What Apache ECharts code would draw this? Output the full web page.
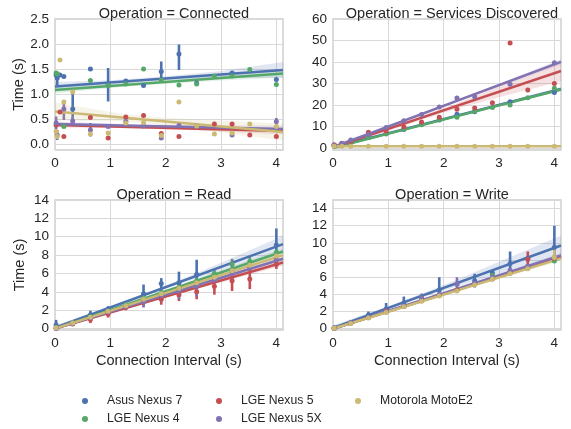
<!DOCTYPE html>
<html><head><meta charset="utf-8">
<script src="https://cdn.jsdelivr.net/npm/echarts@6/dist/echarts.min.js"></script>
<style>html,body{margin:0;padding:0;background:#fff}#c{width:571px;height:429px}</style>
</head><body><div id="c"></div>
<script>
const DEVICES = ['Asus Nexus 7','LGE Nexus 4','LGE Nexus 5','LGE Nexus 5X','Motorola MotoE2'];
const COLORS = ['#4C72B0','#55A868','#C44E52','#8172B2','#CCB974'];
const TITLES = ['Operation = Connected','Operation = Services Discovered','Operation = Read','Operation = Write'];
const FIT_X = [0, 4.12];
const BAND_X = [0, 1, 1.6, 2.2, 3, 4.12];

// ---- Connected ----
const CONN_X = [
  [0.02,0.04,0.09,0.16,0.32,0.64,0.96,1.28,1.6,1.92,2.24,2.56,3.2,4.0],
  [0.02,0.04,0.16,0.64,0.96,1.28,1.6,1.92,2.24,2.56,2.88,3.2,3.52,4.0],
  [0.02,0.09,0.16,0.64,0.96,1.28,1.6,1.92,2.24,2.88,3.2,3.52,4.0],
  [0.02,0.04,0.16,0.32,0.64,0.96,1.28,1.6,1.92,2.24,2.56,3.2,4.0],
  [0.02,0.04,0.09,0.16,0.32,0.64,0.96,1.28,1.6,1.92,2.24,2.56,2.88,3.2,3.52,4.0]
];
const CONN_Y = [
  [1.38,1.32,1.38,1.35,0.70,1.50,1.18,1.26,1.17,1.45,1.80,1.22,1.42,1.29],
  [1.42,1.40,0.35,1.27,1.17,1.20,1.50,1.28,1.18,1.20,1.36,1.36,1.49,1.19],
  [0.38,0.64,0.15,0.53,0.12,0.54,0.57,0.21,0.15,0.40,0.40,0.18,0.15],
  [0.42,0.18,0.70,0.46,0.28,0.35,0.45,0.36,0.12,0.37,0.36,0.18,0.45],
  [0.25,0.15,1.68,0.84,1.04,0.20,0.22,0.42,0.43,0.17,0.84,0.36,0.20,0.22,0.40,0.35]
];
const CONN_ERR = [
  [[0.04,1.18,1.45],[0.32,0.42,1.08],[0.96,0.85,1.52],[1.28,1.22,1.30],[1.92,1.25,1.65],[2.24,1.48,1.99],[3.2,1.38,1.45]],
  [],
  [],
  [[0.02,0.29,0.55],[0.04,0.08,0.28],[0.16,0.48,0.88],[0.32,0.38,0.55],[0.64,0.15,0.42],[1.28,0.40,0.52],[4.0,0.39,0.52]],
  []
];
const CONN_FIT = [[1.15,1.48],[1.08,1.41],[0.38,0.26],[0.40,0.30],[0.65,0.24]];
const CONN_LO = [
  [1.06,1.185,1.24,1.285,1.32,1.32],
  [1.01,1.12,1.175,1.215,1.27,1.33],
  [0.33,0.32,0.31,0.29,0.25,0.19],
  [0.35,0.35,0.34,0.32,0.29,0.23],
  [0.47,0.46,0.42,0.35,0.23,0.07]
];
const CONN_HI = [
  [1.24,1.275,1.32,1.375,1.46,1.64],
  [1.15,1.20,1.245,1.295,1.37,1.49],
  [0.43,0.38,0.36,0.35,0.33,0.33],
  [0.45,0.41,0.39,0.38,0.37,0.37],
  [0.83,0.64,0.56,0.51,0.47,0.41]
];

// ---- Services Discovered ----
const SERV_X = [
  [0.02,0.16,0.32,0.64,0.96,1.28,1.6,1.92,2.24,2.56,3.2,4.0],
  [0.02,0.16,0.32,0.64,0.96,1.28,1.6,1.92,2.24,2.56,2.88,3.2,3.52,4.0],
  [0.02,0.16,0.32,0.64,0.96,1.28,1.6,1.92,2.24,2.56,2.88,3.2,3.52,4.0],
  [0.02,0.16,0.32,0.64,0.96,1.28,1.6,1.92,2.24,2.56,3.2,4.0],
  [0.02,0.16,0.32,0.64,0.96,1.28,1.6,1.92,2.24,2.56,2.88,3.2,3.52,4.0]
];
const SERV_Y = [
  [1.0,1.8,2.8,5.0,6.8,8.5,11.0,13.0,15.6,16.8,21.5,25.8],
  [0.9,1.6,2.4,4.8,6.5,8.8,10.8,13.2,14.3,17.0,18.8,20.0,23.3,27.8],
  [1.5,2.0,3.0,7.3,7.8,9.8,12.0,14.2,18.0,18.5,21.0,48.8,26.9,30.0],
  [1.2,2.2,3.6,6.2,9.5,12.6,15.5,19.0,23.2,23.8,29.6,39.6],
  [0.8,0.7,0.8,0.8,0.8,0.8,0.8,0.8,0.8,0.8,0.8,0.8,0.8,0.8]
];
const SERV_ERR = [[],[],[],[],[]];
const SERV_FIT = [[0.2,27.4],[0.0,27.2],[0.2,35.8],[0.3,40.0],[0.8,0.8]];
const SERV_LO = [
  [-0.3,6.5,10.46,14.42,19.5,26.5],
  [-0.5,6.3,10.26,14.22,19.3,26.3],
  [-0.9,7.84,13.1,18.0,23.6,31.0],
  [-0.3,9.54,15.37,21.1,28.5,38.8],
  [0.6,0.6,0.6,0.6,0.6,0.6]
];
const SERV_HI = [
  [0.7,7.1,11.06,15.02,20.5,28.3],
  [0.5,6.9,10.86,14.82,20.3,28.1],
  [1.8,9.84,14.9,20.4,28.6,40.6],
  [0.9,10.34,16.07,21.9,29.9,41.2],
  [1.0,1.0,1.0,1.0,1.0,1.0]
];

// ---- Read ----
const READ_X = [
  [0.02,0.64,0.96,1.6,1.92,2.24,2.56,4.0],
  [0.02,0.32,0.64,0.96,1.28,1.6,1.92,2.24,2.56,2.88,3.2,3.52,4.0],
  [0.02,0.32,0.64,0.96,1.28,1.6,1.92,2.24,2.56,2.88,3.2,3.52,4.0],
  [0.02,0.32,0.64,0.96,1.28,1.6,1.92,2.24,2.56,2.88,3.2,3.52,4.0],
  [0.02,0.32,0.64,0.96,1.28,1.6,1.92,2.24,2.56,2.88,3.2,3.52,4.0]
];
const READ_Y = [
  [0.4,1.5,2.1,3.8,4.9,5.0,5.9,9.1],
  [0.1,0.6,1.3,1.9,2.6,3.3,3.9,4.5,5.2,6.0,7.0,7.3,8.3],
  [0.05,0.5,1.0,1.6,2.3,2.9,3.2,3.7,4.0,4.6,5.2,5.4,7.0],
  [0.05,0.55,1.2,1.8,2.4,2.9,3.6,4.1,4.6,5.3,6.2,6.6,7.5],
  [0.1,0.6,1.25,1.9,2.5,3.2,3.8,4.4,5.0,5.6,6.3,6.9,7.9]
];
const READ_ERR = [
  [[0.02,0.05,0.95],[0.64,1.0,1.95],[0.96,1.7,2.45],[1.6,2.6,4.8],[1.92,3.7,5.5],[2.24,3.7,6.2],[2.56,4.6,7.5],[4.0,7.8,10.9]],
  [[2.88,5.5,6.5],[3.2,6.5,7.6],[3.52,6.8,7.85],[4.0,7.8,8.6]],
  [[0.64,0.6,1.35],[0.96,1.2,1.9],[1.28,2.0,2.6],[1.6,2.4,3.3],[1.92,2.6,3.7],[2.24,3.0,4.4],[2.56,3.2,4.6],[2.88,3.7,5.5],[3.2,4.1,6.3],[3.52,4.3,6.4],[4.0,6.5,7.6]],
  [[1.6,2.3,3.4],[1.92,2.9,4.1],[2.24,3.2,5.0],[2.56,3.5,5.5],[3.2,5.1,7.5],[4.0,6.8,8.2]],
  [[3.52,6.5,7.3],[4.0,7.5,8.3]]
];
const READ_FIT = [[0.1,9.2],[0.0,8.4],[0.0,7.2],[0.0,7.6],[0.0,8.0]];
const READ_LO = [
  [-0.15,2.16,3.49,4.76,6.28,8.3],
  [-0.12,1.96,3.18,4.39,5.92,8.05],
  [-0.12,1.67,2.72,3.74,5.04,6.85],
  [-0.12,1.76,2.87,3.96,5.33,7.25],
  [-0.12,1.86,3.03,4.17,5.63,7.65]
];
const READ_HI = [
  [0.35,2.46,3.79,5.16,7.18,10.1],
  [0.12,2.12,3.34,4.59,6.32,8.75],
  [0.12,1.83,2.88,3.94,5.44,7.55],
  [0.12,1.92,3.03,4.16,5.73,7.95],
  [0.12,2.02,3.19,4.37,6.03,8.35]
];

// ---- Write ----
const WRITE_X = [
  [0.02,0.32,0.64,0.96,1.28,1.6,1.92,2.24,2.56,2.88,3.2,3.52,4.0],
  [0.02,0.32,0.64,0.96,1.28,1.6,1.92,2.24,2.56,2.88,3.2,3.52,4.0],
  [0.02,0.32,0.64,0.96,1.28,1.6,1.92,2.24,2.56,2.88,3.2,3.52,4.0],
  [0.02,0.32,0.64,0.96,1.28,1.6,1.92,2.24,2.56,2.88,3.2,3.52,4.0],
  [0.02,0.32,0.64,0.96,1.28,1.6,1.92,2.24,2.56,2.88,3.2,3.52,4.0]
];
const WRITE_Y = [
  [0.1,0.7,1.6,2.3,3.0,3.6,4.5,5.2,5.6,6.5,7.6,8.2,9.5],
  [0.05,0.65,1.3,1.95,2.6,3.3,3.9,4.5,5.2,6.2,6.6,7.1,7.9],
  [0.05,0.65,1.3,2.1,2.6,3.25,3.9,4.5,5.2,5.8,6.6,8.1,8.2],
  [0.05,0.7,1.35,2.0,2.65,3.6,4.0,5.2,5.3,6.0,6.8,7.3,8.3],
  [0.05,0.6,1.25,1.9,2.55,3.2,3.8,4.4,5.1,5.8,6.4,7.0,8.3]
];
const WRITE_ERR = [
  [[0.64,1.4,2.0],[0.96,2.0,3.0],[1.28,2.6,3.75],[1.92,3.6,6.0],[2.56,4.8,6.4],[3.2,6.5,9.0],[4.0,8.0,12.0]],
  [[2.88,5.9,6.6]],
  [[3.52,7.3,9.0]],
  [[1.6,3.3,4.1],[2.24,4.6,6.0]],
  [[4.0,8.0,9.3]]
];
const WRITE_FIT = [[0.1,9.7],[0.0,8.3],[0.0,8.4],[0.0,8.55],[0.0,8.2]];
const WRITE_LO = [
  [-0.2,2.23,3.58,4.83,6.39,8.55],
  [-0.1,1.95,3.16,4.35,5.89,8.0],
  [-0.1,1.98,3.2,4.41,5.97,8.1],
  [-0.1,2.02,3.26,4.49,6.08,8.25],
  [-0.1,1.93,3.12,4.3,5.82,7.9]
];
const WRITE_HI = [
  [0.4,2.63,4.08,5.63,7.79,10.85],
  [0.1,2.07,3.28,4.51,6.19,8.6],
  [0.1,2.1,3.32,4.57,6.27,8.7],
  [0.1,2.14,3.38,4.65,6.38,8.85],
  [0.1,2.05,3.24,4.46,6.12,8.5]
];

const Y_MIN = [-0.12, -1, -0.15, -0.15];
const Y_MAX = [2.5, 60, 14, 15];
const Y_SPLIT = [5, 6, 7, 7];

const PANELS = [
  {X:CONN_X, Y:CONN_Y, ERR:CONN_ERR, FIT:CONN_FIT, LO:CONN_LO, HI:CONN_HI},
  {X:SERV_X, Y:SERV_Y, ERR:SERV_ERR, FIT:SERV_FIT, LO:SERV_LO, HI:SERV_HI},
  {X:READ_X, Y:READ_Y, ERR:READ_ERR, FIT:READ_FIT, LO:READ_LO, HI:READ_HI},
  {X:WRITE_X, Y:WRITE_Y, ERR:WRITE_ERR, FIT:WRITE_FIT, LO:WRITE_LO, HI:WRITE_HI}
];

const FONT = "'Liberation Sans', Arial, sans-serif";
const TXT = '#262626';
const GRIDS = [
  {left:55, top:19, width:228, height:131},
  {left:333, top:19, width:228, height:131},
  {left:55, top:200, width:228, height:130},
  {left:333, top:200, width:228, height:130}
];

const grid = GRIDS.map(g => Object.assign({show:true, borderColor:'#cccccc', borderWidth:1.3, backgroundColor:'transparent', containLabel:false}, g));
const xAxis = GRIDS.map((g, i) => ({
  type:'value', gridIndex:i, min:0, max:4.12, interval:1,
  axisLine:{show:false}, axisTick:{show:false},
  axisLabel:{show:true, margin:6, fontSize:13.5, color:TXT, fontFamily:FONT, showMaxLabel:false},
  splitLine:{show:true, lineStyle:{color:'#d9d9d9', width:1}},
  name: i >= 2 ? 'Connection Interval (s)' : '',
  nameLocation:'middle', nameGap:23,
  nameTextStyle:{fontSize:14.5, color:TXT, fontFamily:FONT}
}));
const yAxis = GRIDS.map((g, i) => ({
  type:'value', gridIndex:i, min:Y_MIN[i], max:Y_MAX[i], splitNumber:Y_SPLIT[i],
  axisLine:{show:false}, axisTick:{show:false},
  axisLabel:{show:true, margin:6, fontSize:13.5, color:TXT, fontFamily:FONT, showMinLabel:false,
    showMaxLabel: i !== 3,
    formatter: v => i === 0 ? v.toFixed(1) : String(Math.round(v))},
  splitLine:{show:true, lineStyle:{color:'#d9d9d9', width:1}},
  name: (i === 0 || i === 2) ? 'Time (s)' : '',
  nameLocation:'middle', nameGap:28,
  nameTextStyle:{fontSize:14.5, color:TXT, fontFamily:FONT}
}));

const series = [];
PANELS.forEach((p, pi) => {
  DEVICES.forEach((d, di) => {
    const c = COLORS[di];
    series.push({
      type:'custom', name:'band'+pi+'_'+di, xAxisIndex:pi, yAxisIndex:pi,
      data: BAND_X.map((x, k) => [x, p.LO[di][k], p.HI[di][k]]),
      encode:{x:0, y:[1,2]}, silent:true, z:2, clip:true,
      renderItem: (params, api) => {
        if (params.dataIndexInside !== 0) return null;
        const n = BAND_X.length;
        const top = [], bot = [];
        for (let j = 0; j < n; j++) {
          top.push(api.coord([api.value(0, j), api.value(2, j)]));
          bot.push(api.coord([api.value(0, j), api.value(1, j)]));
        }
        const pts = top.concat(bot.reverse());
        const cs = params.coordSys;
        return {type:'polygon', shape:{points:pts}, style:{fill:c, opacity:0.17},
          clipPath:{type:'rect', shape:{x:cs.x, y:cs.y, width:cs.width, height:cs.height}}};
      }
    });
    series.push({
      type:'line', name:'fit'+pi+'_'+di, xAxisIndex:pi, yAxisIndex:pi,
      data: FIT_X.map((x, k) => [x, p.FIT[di][k]]),
      showSymbol:false, symbol:'none', lineStyle:{color:c, width:2.5}, silent:true, z:2
    });
    if (p.ERR[di].length) {
      series.push({
        type:'custom', name:'err'+pi+'_'+di, xAxisIndex:pi, yAxisIndex:pi,
        data: p.ERR[di], encode:{x:0, y:[1,2]}, silent:true, z:2,
        renderItem: (params, api) => {
          const a = api.coord([api.value(0), api.value(1)]);
          const b = api.coord([api.value(0), api.value(2)]);
          return {type:'line', shape:{x1:a[0], y1:a[1], x2:b[0], y2:b[1]}, style:{stroke:c, lineWidth:2.6}};
        }
      });
    }
    series.push({
      type:'scatter', name:d, xAxisIndex:pi, yAxisIndex:pi,
      data: p.X[di].map((x, k) => [x, p.Y[di][k]]),
      symbol:'circle', symbolSize:5, itemStyle:{color:c, opacity:1}, silent:true, z:2
    });
  });
});

const title = TITLES.map((t, i) => ({
  text:t, left: GRIDS[i].left + GRIDS[i].width/2, top: GRIDS[i].top - 18, textAlign:'center',
  textStyle:{fontSize:14.5, fontWeight:'normal', color:TXT, fontFamily:FONT}
}));

const LEG_LEFT = [82, 82, 216, 216, 355];
const LEG_TOP = [395, 413, 395, 413, 395];
const legend = DEVICES.map((d, i) => ({
  data:[d], left:LEG_LEFT[i], top:LEG_TOP[i], orient:'horizontal', icon:'circle',
  itemWidth:6, itemHeight:6, padding:0,
  textStyle:{fontSize:12.2, color:TXT, fontFamily:FONT, padding:[0,0,0,14]},
  selectedMode:false
}));

const chart = echarts.init(document.getElementById('c'), null, {renderer:'canvas'});
chart.setOption({
  animation:false, backgroundColor:'#ffffff',
  title, legend, grid, xAxis, yAxis, series
});
</script></body></html>
